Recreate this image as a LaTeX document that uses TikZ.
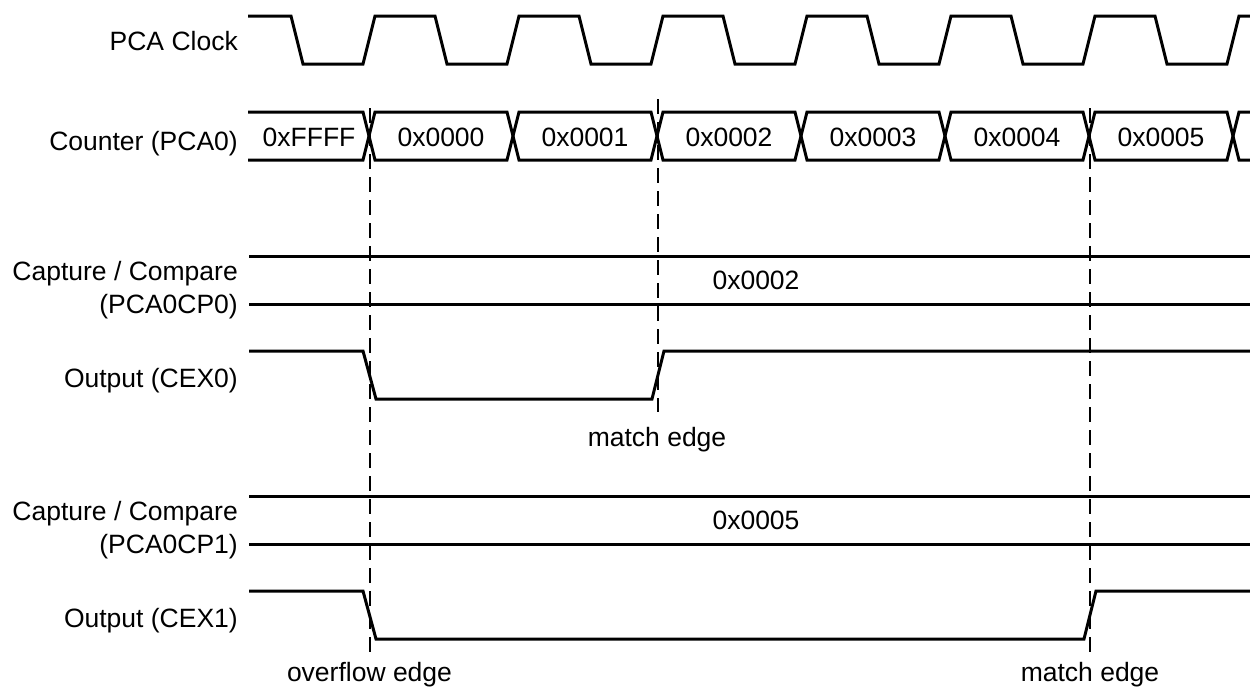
\documentclass[tikz,border=0pt]{standalone}
\usepackage{fontspec}
\setmainfont{Liberation Sans}
\begin{document}
\begin{tikzpicture}[x=1pt,y=-1pt,
  wave/.style={line width=3pt, line join=miter, line cap=butt},
  guide/.style={line width=2pt, dash pattern=on 15pt off 8pt},
  lbl/.style={anchor=base east, inner sep=0pt, font=\fontsize{26.5}{30}\selectfont},
  val/.style={anchor=base, inner sep=0pt, font=\fontsize{26.5}{30}\selectfont}]
\useasboundingbox (0,0) rectangle (1250,688);

% signal names
\node[lbl] (nclk) at (238,50) {PCA Clock};
\node[lbl] (ncnt) at (238,150) {Counter (PCA0)};
\node[lbl] (ncp0a) at (238,280) {Capture / Compare};
\node[lbl] (ncp0b) at (238,313) {(PCA0CP0)};
\node[lbl] (ncex0) at (238,387) {Output (CEX0)};
\node[lbl] (ncp1a) at (238,520) {Capture / Compare};
\node[lbl] (ncp1b) at (238,553) {(PCA0CP1)};
\node[lbl] (ncex1) at (238,627) {Output (CEX1)};

% clock
\draw[wave] (248,16) foreach \k in {0,...,6} {
  -- ({291+144*\k},16) -- ({303+144*\k},64) -- ({363+144*\k},64) -- ({375+144*\k},16) } -- (1250,16);

% counter bus
\draw[wave] (248,112) -- (363,112) -- (369,136) -- (363,160) -- (248,160);
\foreach \k in {0,...,5} {
  \pgfmathsetmacro\ca{369+144*\k}
  \pgfmathsetmacro\cb{513+144*\k}
  \draw[wave] (\ca,136) -- ({\ca+6},112) -- ({\cb-6},112) -- (\cb,136) -- ({\cb-6},160) -- ({\ca+6},160) -- cycle;
}
\draw[wave] (1250,112) -- (1239,112) -- (1233,136) -- (1239,160) -- (1250,160);
\node[val] (vFFFF) at (309,146) {0xFFFF};
\foreach \k/\t in {0/0x0000,1/0x0001,2/0x0002,3/0x0003,4/0x0004,5/0x0005} {
  \node[val] (v\k) at ({441+144*\k},146) {\t};
}

% capture / compare 0
\draw[wave] (249,256) -- (1250,256);
\draw[wave] (249,304) -- (1250,304);
\node[val] (cp0) at (756,289) {0x0002};

% output CEX0
\draw[wave] (249,351) -- (363,351) -- (376,399) -- (652,399) -- (664,351) -- (1250,351);

% capture / compare 1
\draw[wave] (249,496) -- (1250,496);
\draw[wave] (249,544) -- (1250,544);
\node[val] (cp1) at (756,529) {0x0005};

% output CEX1
\draw[wave] (249,591) -- (363,591) -- (376,639) -- (1084,639) -- (1096,591) -- (1250,591);

% guides
\coordinate (ovT) at (369.5,108);
\coordinate (ovB) at (369.5,652);
\coordinate (m0T) at (657.5,99);
\coordinate (m0B) at (657.5,412);
\coordinate (m1T) at (1089.5,108);
\coordinate (m1B) at (1089.5,652);
\draw[guide] (ovT) -- (ovB);
\draw[guide] (m0T) -- (m0B);
\draw[guide] (m1T) -- (m1B);

\node[val] (lm0) at (657,446) {match edge};
\node[val] (lov) at (369.5,681) {overflow edge};
\node[val] (lm1) at (1090,681) {match edge};
\end{tikzpicture}
\end{document}
